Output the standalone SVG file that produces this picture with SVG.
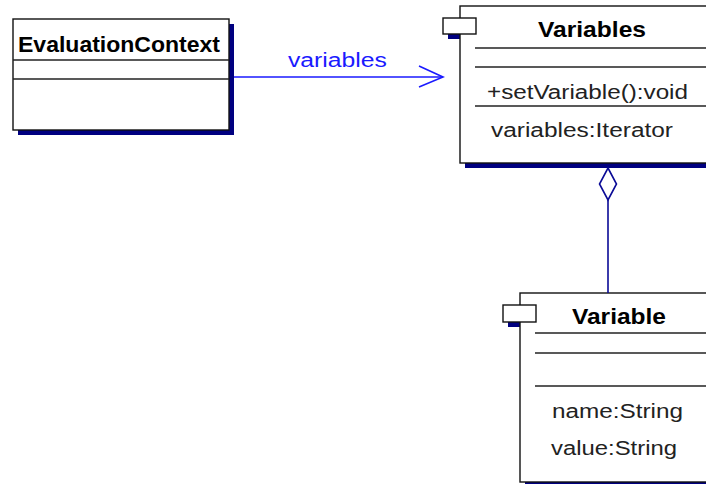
<svg xmlns="http://www.w3.org/2000/svg" width="706" height="484" viewBox="0 0 706 484">
  <style>
    .shadow { fill: #000080; }
    .box { fill: #ffffff; stroke: #111111; stroke-width: 1.4; }
    .sep { stroke: #222222; stroke-width: 1.4; fill: none; }
    .title { font-family: "Liberation Sans", Arial, sans-serif; font-weight: bold; font-size: 22px; fill: #000000; }
    .member { font-family: "Liberation Sans", Arial, sans-serif; font-size: 20px; fill: #222222; }
    .assoc { stroke: #1a1aff; stroke-width: 1.6; fill: none; }
    .assoc-label { font-family: "Liberation Sans", Arial, sans-serif; font-size: 20px; fill: #1a1aff; }
    .aggr { stroke: #0a0a96; stroke-width: 1.6; fill: none; }
  </style>

  <rect width="706" height="484" fill="#ffffff"/>

  <!-- EvaluationContext class -->
  <g id="evaluationContext">
    <rect class="shadow" x="18" y="24" width="216" height="111"/>
    <rect class="box" x="13" y="19" width="216" height="111"/>
    <text class="title" x="18" y="52" textLength="202" lengthAdjust="spacingAndGlyphs">EvaluationContext</text>
    <line class="sep" x1="13" y1="60" x2="229" y2="60"/>
    <line class="sep" x1="13" y1="79" x2="229" y2="79"/>
  </g>

  <!-- Variables class (shadows first, so the body hides the tab shadow) -->
  <g id="variables">
    <rect class="shadow" x="465" y="11" width="260" height="157"/>
    <rect class="shadow" x="448" y="23" width="33" height="16"/>
    <rect class="box" x="460" y="6" width="260" height="157"/>
    <rect class="box" x="443" y="18" width="33" height="16"/>
    <text class="title" x="538" y="37" textLength="108" lengthAdjust="spacingAndGlyphs">Variables</text>
    <line class="sep" x1="475" y1="48" x2="706" y2="48"/>
    <line class="sep" x1="475" y1="67" x2="706" y2="67"/>
    <text class="member" x="487" y="99" textLength="201" lengthAdjust="spacingAndGlyphs">+setVariable():void</text>
    <line class="sep" x1="475" y1="106" x2="706" y2="106"/>
    <text class="member" x="491" y="137" textLength="182" lengthAdjust="spacingAndGlyphs">variables:Iterator</text>
  </g>

  <!-- Variable class -->
  <g id="variable">
    <rect class="shadow" x="525" y="298" width="200" height="189"/>
    <rect class="shadow" x="508" y="310" width="33" height="17"/>
    <rect class="box" x="520" y="293" width="200" height="189"/>
    <rect class="box" x="503" y="305" width="33" height="17"/>
    <text class="title" x="572" y="324" textLength="94" lengthAdjust="spacingAndGlyphs">Variable</text>
    <line class="sep" x1="535" y1="333" x2="706" y2="333"/>
    <line class="sep" x1="535" y1="353" x2="706" y2="353"/>
    <line class="sep" x1="535" y1="386" x2="706" y2="386"/>
    <text class="member" x="552" y="418" textLength="131" lengthAdjust="spacingAndGlyphs">name:String</text>
    <text class="member" x="551" y="455" textLength="126" lengthAdjust="spacingAndGlyphs">value:String</text>
  </g>

  <!-- Connectors -->
  <g id="connectors">
    <g id="assoc-variables">
      <line class="assoc" x1="234" y1="77" x2="443" y2="77"/>
      <polyline class="assoc" points="419,66 443,77 419,87"/>
      <text class="assoc-label" x="288" y="67" textLength="99" lengthAdjust="spacingAndGlyphs">variables</text>
    </g>
    <g id="aggr-variable">
      <line class="aggr" x1="608" y1="200" x2="608" y2="293"/>
      <polygon class="aggr" fill="#ffffff" points="608,168 616.5,184 608,200 599.5,184"/>
    </g>
  </g>
</svg>
